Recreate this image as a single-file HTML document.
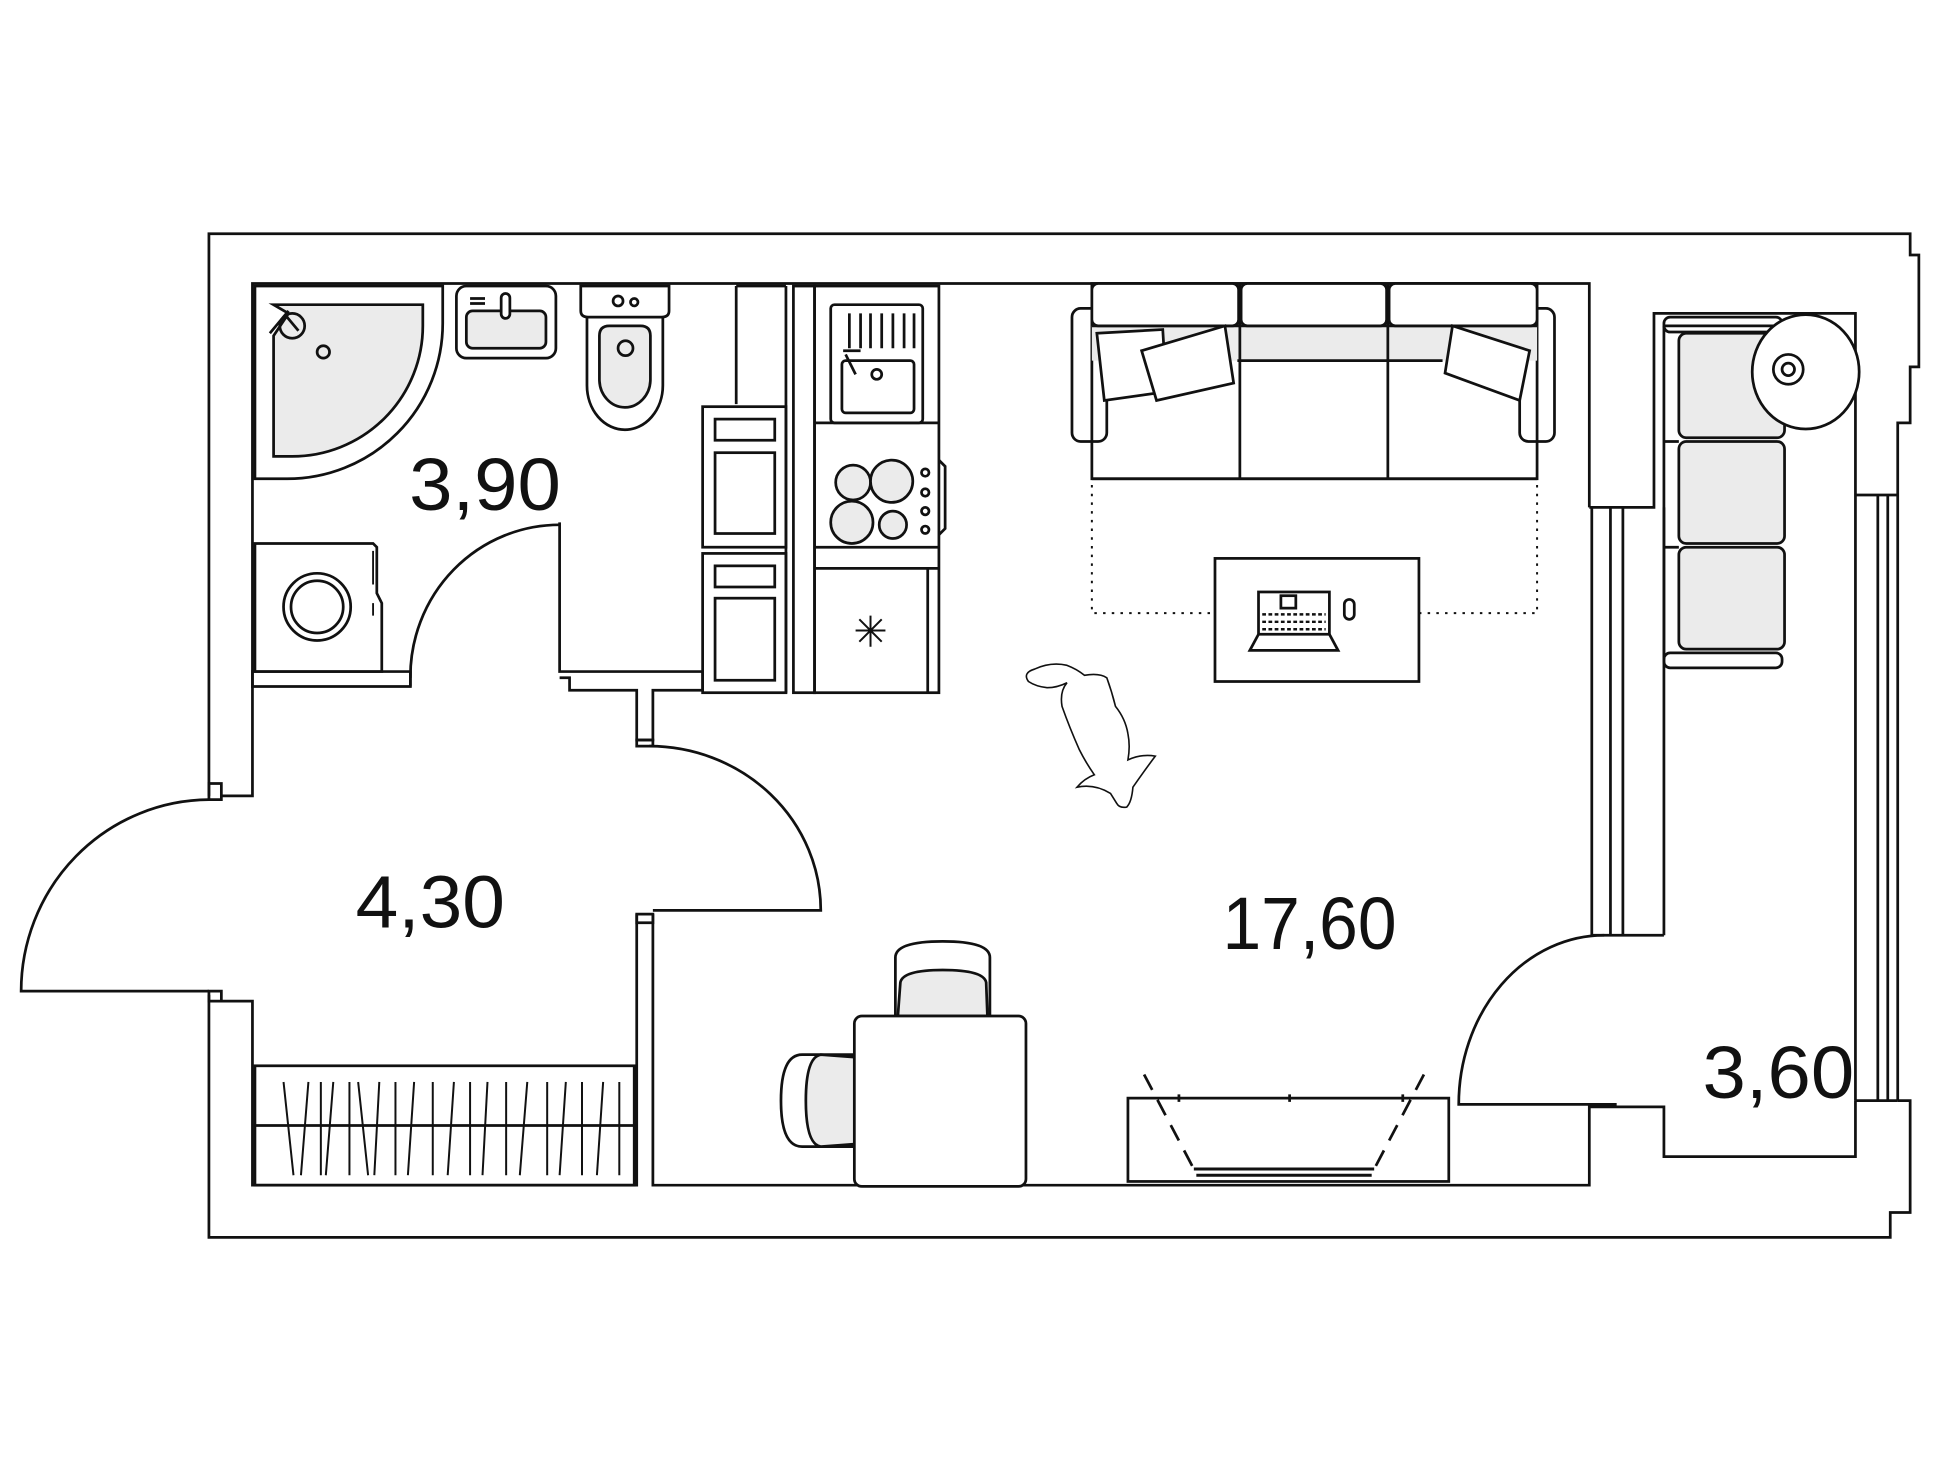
<!DOCTYPE html>
<html><head><meta charset="utf-8"><style>
html,body{margin:0;padding:0;background:#fff}
svg{display:block}
text{font-family:"Liberation Sans",sans-serif;fill:#111}
</style></head><body>
<svg width="1940" height="1465" viewBox="0 0 1560 1178" preserveAspectRatio="none" xmlns="http://www.w3.org/2000/svg">
<g fill="none" stroke="#111" stroke-width="2.2" stroke-linejoin="miter">
<path d="M168,640 V188 H1536 V205 H1543 V295 H1536 V340 H1526 V398"/>
<path d="M1526,885 V885 H1536 V975 H1520 V995 H168 V800"/>
<path d="M178,640 H203 V228 H1278 V408"/>
<path d="M168,630 H178 V643 H168 Z"/>
<path d="M168,797 H178 V805 H168 Z"/>
<path d="M178,805 H203 V953 H512 V735"/>
<path d="M525,735 V953 H1278 V890 H1338 V930 H1492 V885"/>
<path d="M1492,398 V252 H1330 V408 H1278"/>
<path d="M1280,408 V752 M1295,408 V752 M1305,408 V752 M1338,408 V752 M1280,752 H1338"/>
<path d="M1492,398 V885 M1510,398 V885 M1518,398 V885 M1526,398 V885 M1492,885 H1526 M1492,398 H1526"/>
<path d="M168,643 A152,154 0 0 0 17,797 H168"/>
<path d="M512,595 H525 V600 H512 Z"/>
<path d="M522,600 A138,132 0 0 1 660,732 H525"/>
<path d="M512,735 H525 V742 H512 Z"/>
<path d="M203,540 H330 V552 H203 Z"/>
<path d="M330,540 V552 M450,420 V540 H565 V555 H525 V595 H512 V555 H458 V545 H450"/>
<path d="M450,422 A120,122 0 0 0 330,545"/>
<path d="M592,230 V325 M632,230 V557 M592,230 H632"/>
<rect x="565" y="327" width="67" height="113"/>
<rect x="575" y="337" width="48" height="17"/>
<rect x="575" y="364" width="48" height="65"/>
<rect x="565" y="445" width="67" height="112"/>
<rect x="575" y="455" width="48" height="17"/>
<rect x="575" y="481" width="48" height="66"/>
<rect x="638" y="230" width="17" height="327"/>
<rect x="655" y="230" width="100" height="327"/>
<path d="M655,340 H755 M655,440 H755 M655,457 H755 M746,457 V557"/>
<path d="M755,370 L760,375 V425 L755,430"/>
<rect x="668" y="245" width="74" height="95" rx="3"/>
<rect x="677" y="290" width="58" height="42" rx="3"/>
<path d="M683,252 V280 M692,252 V280 M700,252 V280 M709,252 V280 M718,252 V280 M727,252 V280 M735,252 V280"/>
<circle cx="705" cy="301" r="4"/>
<path d="M680,285 L688,301 M678,282 H692"/>
<g fill="#ebebeb"><circle cx="686" cy="388" r="14"/><circle cx="717" cy="387" r="17"/><circle cx="685" cy="420" r="17"/><circle cx="718" cy="422" r="11"/></g>
<circle cx="744" cy="380" r="3"/><circle cx="744" cy="396" r="3"/><circle cx="744" cy="411" r="3"/><circle cx="744" cy="426" r="3"/>
<path d="M700,495 V520 M688,507 H712 M691,498 L709,516 M709,498 L691,516" stroke-width="1.6"/>
<path d="M205,230 H356 V260 A125,125 0 0 1 231,385 H205 Z"/>
<path d="M220,245 H340 V262 A105,105 0 0 1 235,367 H220 V270 L232,252 Z" fill="#ebebeb"/>
<path d="M217,268 L232,250"/>
<circle cx="235" cy="262" r="10"/><path d="M230,254 L240,266"/>
<circle cx="260" cy="283" r="5"/>
<rect x="367" y="230" width="80" height="58" rx="8"/>
<rect x="375" y="250" width="64" height="30" rx="5" fill="#ebebeb"/>
<path d="M378,240 H390 M378,244 H390"/>
<rect x="403" y="236" width="7" height="20" rx="3.5" fill="#fff"/>
<path d="M467,230 H538 V250 Q538,255 532,255 H473 Q467,255 467,250 Z"/>
<circle cx="497" cy="242" r="4"/><circle cx="510" cy="243" r="3"/>
<path d="M472,255 V310 A30,35 0 0 0 533,310 V255"/>
<path d="M482,270 Q482,262 490,262 H515 Q523,262 523,270 V305 A20,22 0 0 1 482,305 Z" fill="#ebebeb"/>
<circle cx="503" cy="280" r="6"/>
<path d="M205,437 H300 L303,440 V477 L307,485 V540 H205 Z"/>
<circle cx="255" cy="488" r="27"/><circle cx="255" cy="488" r="21"/>
<path d="M300,443 V470 M300,485 V495" stroke-width="1.5"/>
<rect x="205" y="857" width="305" height="96"/>
<path d="M205,905 H510"/>
<g stroke-width="1.6"><path d="M228,870 L236,945 M248,870 L242,945 M258,870 V945 M268,870 L262,945 M281,870 V945 M288,870 L296,945 M305,870 L301,945 M318,870 V945 M333,870 L328,945 M348,870 V945 M365,870 L360,945 M378,870 V945 M392,870 L388,945 M407,870 V945"/>
<path d="M424,870 L418,945 M440,870 V945 M455,870 L450,945 M468,870 V945 M485,870 L480,945 M498,870 V945"/></g>
<rect x="862" y="248" width="28" height="107" rx="7"/>
<rect x="1222" y="248" width="28" height="107" rx="7"/>
<path d="M878,385 V228 H1236 V385 Z"/>
<rect x="878" y="262" width="358" height="28" fill="#ebebeb" stroke="none"/>
<path d="M878,262 H1236 M997,228 V385 M1116,228 V385 M878,385 H1236 M995,290 H1160"/>
<rect x="878" y="228" width="118" height="34" rx="5" fill="#fff"/>
<rect x="998" y="228" width="117" height="34" rx="5" fill="#fff"/>
<rect x="1117" y="228" width="119" height="34" rx="5" fill="#fff"/>
<path d="M882,268 L935,265 L938,315 L888,322 Z" fill="#fff"/>
<path d="M918,282 L985,262 L992,308 L930,322 Z" fill="#fff"/>
<path d="M1168,262 L1230,282 L1222,322 L1162,300 Z" fill="#fff"/>
<path d="M878,390 V493 H977 M1141,493 H1236 V390" stroke-dasharray="2 5" stroke-width="1.6"/>
<rect x="977" y="449" width="164" height="99"/>
<rect x="1012" y="476" width="57" height="34"/>
<rect x="1030" y="479" width="12" height="10"/>
<path d="M1015,494 H1066 M1015,500 H1066 M1015,506 H1066" stroke-dasharray="3 2" stroke-width="2"/>
<path d="M1012,510 L1005,523 H1076 L1069,510"/>
<rect x="1081" y="482" width="8" height="16" rx="4"/>
<path d="M1338,262 V530 M1338,262 H1433 M1338,355 H1350 M1338,440 H1350"/>
<rect x="1338" y="255" width="95" height="12" rx="5"/>
<rect x="1338" y="525" width="95" height="12" rx="5"/>
<rect x="1350" y="268" width="85" height="84" rx="6" fill="#ebebeb"/>
<rect x="1350" y="355" width="85" height="82" rx="6" fill="#ebebeb"/>
<rect x="1350" y="440" width="85" height="82" rx="6" fill="#ebebeb"/>
<ellipse cx="1452" cy="299" rx="43" ry="46" fill="#fff"/>
<circle cx="1438" cy="297" r="12"/><circle cx="1438" cy="297" r="5"/>
<path d="M720,817 V770 Q720,757 758,757 Q796,757 796,770 V817" fill="#fff"/>
<path d="M722,817 L724,790 Q726,780 758,780 Q791,780 793,790 L794,817 Z" fill="#ebebeb"/>
<path d="M687,848 H645 Q628,848 628,885 Q628,922 645,922 H687" fill="#fff"/>
<path d="M687,850 L660,848 Q648,850 648,885 Q648,920 660,922 L687,920 Z" fill="#ebebeb"/>
<rect x="687" y="817" width="138" height="137" rx="6" fill="#fff"/>
<rect x="907" y="883" width="258" height="67"/>
<path d="M920,864 L960,940 M1145,864 L1105,940" stroke-dasharray="14 9"/>
<path d="M960,940 H1105 M962,945 H1103" stroke-width="2.4"/>
<path d="M948,880 V886 M1037,880 V886 M1128,880 V886"/>
<path d="M1290,752 A117,136 0 0 0 1173,888 H1300"/>
<path stroke-width="1.3" d="M827,548 Q822,541 832,538 Q845,532 858,535 Q866,538 872,543 Q884,541 890,545 Q894,556 897,568 Q905,578 907,590 Q909,600 907,611 Q918,606 929,608 Q920,620 911,633 Q910,645 906,649 Q900,650 898,646 L893,638 Q880,630 866,633 Q872,626 880,623 Q873,613 868,603 Q860,585 854,568 Q852,556 858,549 Q850,553 842,553 Q833,552 827,548 Z"/>
</g>
<g font-size="60" text-anchor="middle">
<text x="390" y="410" textLength="122" lengthAdjust="spacingAndGlyphs">3,90</text>
<text x="346" y="746" textLength="120" lengthAdjust="spacingAndGlyphs">4,30</text>
<text x="1053" y="763" textLength="140" lengthAdjust="spacingAndGlyphs">17,60</text>
<text x="1430" y="883" textLength="122" lengthAdjust="spacingAndGlyphs">3,60</text>
</g>
</svg>
</body></html>
